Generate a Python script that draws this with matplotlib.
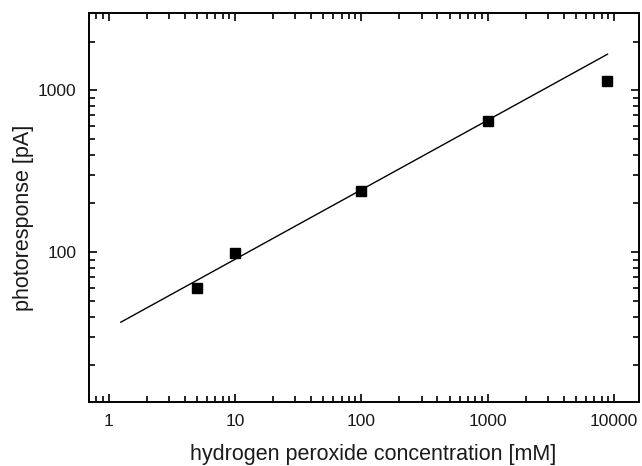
import numpy as np
import matplotlib
matplotlib.use('Agg')
import matplotlib.pyplot as plt
from matplotlib.ticker import LogLocator, FuncFormatter, NullFormatter

plt.rcParams['font.family'] = ['Liberation Sans', 'DejaVu Sans']

# data
conc = [5, 10, 100, 1000, 8800]          # mM
response = [60, 99, 240, 650, 1140]      # pA

# fitted line end points
fit_x = [1.25, 8900]
fit_y = [37, 1670]

fig = plt.figure(figsize=(6.42, 4.66), dpi=100)
ax = fig.add_axes([89/642, 1 - 402/466, 550/642, 389/466])

ax.plot(fit_x, fit_y, color='black', linewidth=1.0)
ax.plot(conc, response, linestyle='none', marker='s', markersize=7.5,
        color='black')

ax.set_xscale('log')
ax.set_yscale('log')
ax.set_xlim(0.7, 15800)
ax.set_ylim(11.9, 3000)

ax.xaxis.set_major_locator(LogLocator(base=10, numticks=10))
ax.xaxis.set_minor_locator(LogLocator(base=10, subs=np.arange(2, 10), numticks=20))
ax.yaxis.set_major_locator(LogLocator(base=10, numticks=10))
ax.yaxis.set_minor_locator(LogLocator(base=10, subs=np.arange(2, 10), numticks=20))

fmt = FuncFormatter(lambda v, p: '%d' % round(v))
ax.xaxis.set_major_formatter(fmt)
ax.yaxis.set_major_formatter(fmt)
ax.xaxis.set_minor_formatter(NullFormatter())
ax.yaxis.set_minor_formatter(NullFormatter())

ax.tick_params(which='both', direction='in', top=True, right=True,
               labelsize=12.5, labelcolor='#1a1a1a', width=1.2, pad=9)
ax.tick_params(which='major', length=6)
ax.tick_params(which='minor', length=4)

for s in ax.spines.values():
    s.set_linewidth(1.4)

ax.set_xlabel('hydrogen peroxide concentration [mM]', fontsize=15.5,
              color='#1a1a1a')
ax.set_ylabel('photoresponse [pA]', fontsize=15.5, color='#1a1a1a')
ax.xaxis.set_label_coords(0.517, -0.108)
ax.yaxis.set_label_coords(-0.100, 0.473)

fig.savefig('out.png', dpi=100)
